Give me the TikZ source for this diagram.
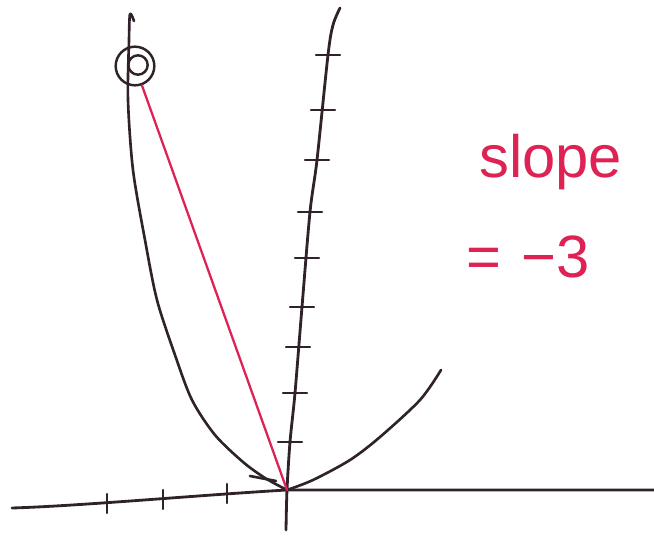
\documentclass[tikz,border=0pt]{standalone}
\usepackage{fontspec}
\setmainfont{Liberation Sans}
\usepackage{tikz}
\usetikzlibrary{positioning}
\definecolor{ink}{RGB}{48,34,42}
\definecolor{pen}{RGB}{222,34,84}

\begin{document}
\begin{tikzpicture}[
        x=0.02cm, y=-0.02cm,
        line cap=round, line join=round,
        line width=1.6pt,
        axis/.style={color=ink},
        tick/.style={color=ink, line width=1.4pt},
        curve/.style={color=ink, line width=1.5pt},
        secant/.style={color=pen, line width=1.3pt},
        dot/.style={circle, draw=ink, line width=1.4pt, inner sep=0pt, minimum size=#1},
        note/.style={color=pen, font=\fontsize{34}{40}\selectfont, inner sep=0pt}
    ]
    \useasboundingbox (0,0) rectangle (654,537);
    \coordinate (O) at (287,490);
    % axes
    \draw[axis] (12,508) .. controls (80,506) and (200,495) .. (O) -- (654,490);
    \draw[axis] plot[smooth] coordinates {(286,530) (O) (290,442) (295,393) (302,307)
        (310,212) (317,160) (328,55) (333,25) (340,8)};
    \foreach \tx/\ty in {328/55, 323/110, 317/160, 310/212, 307/258, 302/307, 298/347, 295/393, 290/442}
        \draw[tick] (\tx-12,\ty) -- (\tx+12,\ty);
    \foreach \tx/\ty in {107/503, 163/499, 227/493}
        \draw[tick] (\tx,\ty-9) -- (\tx,\ty+10);
    % parabola
    \draw[curve] plot[smooth] coordinates {(134,21) (130,14) (129,40) (128,100) (133,170)
        (145,240) (157,300) (175,355) (192,400) (215,435) (243,462) (265,478) (O)};
    \draw[curve] (250,476) -- (276,481);
    \draw[curve] plot[smooth] coordinates {(O) (313,480) (350,460) (380,437) (420,400) (441,370)};
    % point on the curve
    \node[dot=22] (pt) at (135,66) {};
    \node[dot=11] (ptin) at (138,65) {};
    \draw[secant] (O) -- (pt);
    % label
    \node[note, anchor=base west] (slope) at (478,178) {slope};
    \node[note, anchor=base west] (value) at (465,278) {=\,\,−3};
\end{tikzpicture}
\end{document}
